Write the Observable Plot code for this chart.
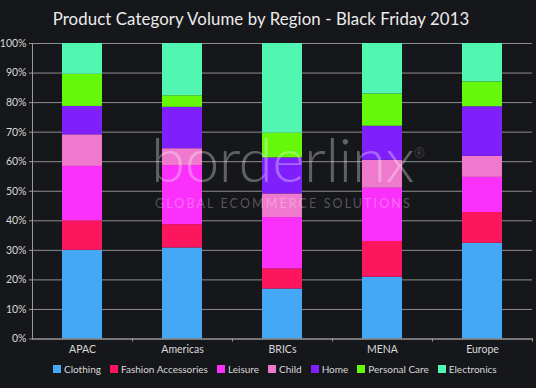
<!DOCTYPE html>
<html>
<head>
<meta charset="utf-8">
<script src="https://cdn.jsdelivr.net/npm/d3@7"></script>
<script src="https://cdn.jsdelivr.net/npm/@observablehq/plot@0.6"></script>
<style>
  html, body { margin: 0; padding: 0; background: #16171b; }
  #wrap { position: relative; width: 536px; height: 388px; overflow: hidden; background: #16171b; font-family: Lato, "Open Sans", sans-serif; }
  #title { position: absolute; left: 0; top: 8px; width: 522px; text-align: center; color: #ececec; font-size: 16.8px; letter-spacing: 0.1px; }
  #legend { position: absolute; left: 53px; top: 363px; display: flex; align-items: center; color: #d8d8d8; font-size: 10px; white-space: nowrap; }
  #legend .item { display: flex; align-items: center; margin-right: 9px; }
  #legend .sw { width: 8px; height: 8px; margin-right: 3px; }
  #wm1 { position: absolute; left: 151px; top: 121px; color: rgba(255,255,255,0.32); font-size: 62px; font-weight: 300; letter-spacing: -0.5px; pointer-events: none; }
  #wm1 sup { font-size: 13px; vertical-align: 24px; margin-left: 0px; }
  #wm2 { position: absolute; left: 155px; top: 196px; color: rgba(255,255,255,0.28); font-size: 12.5px; letter-spacing: 2.1px; pointer-events: none; }
  #chart { position: absolute; left: 0; top: 0; }
</style>
</head>
<body>
<div id="wrap">
  <div id="chart"></div>
  <div id="title"></div>
  <div id="wm1">borderlinx<sup>®</sup></div>
  <div id="wm2">GLOBAL ECOMMERCE SOLUTIONS</div>
  <div id="legend"></div>
</div>
<script>
const title = "Product Category Volume by Region - Black Friday 2013";
const regions = ["APAC", "Americas", "BRICs", "MENA", "Europe"];
const categories = ["Clothing", "Fashion Accessories", "Leisure", "Child", "Home", "Personal Care", "Electronics"];
const colors = ["#44a8f6", "#fb165e", "#fc30fb", "#ef7acd", "#7f20fc", "#66f80a", "#53f5b2"];

// percentage share per region (APAC, Americas, BRICs, MENA, Europe)
const clothing     = [30.0, 30.8, 16.9, 20.9, 32.4];
const fashion      = [10.0,  7.9,  6.8, 12.1, 10.4];
const leisure      = [18.4, 20.0, 17.4, 18.0, 11.9];
const child        = [10.7,  5.7,  8.0,  9.5,  7.1];
const home         = [ 9.6, 14.0, 12.2, 11.5, 16.8];
const personalCare = [10.9,  3.9,  8.4, 10.9,  8.4];
const electronics  = [10.4, 17.7, 30.3, 17.1, 13.0];

const yTicks = [0, 10, 20, 30, 40, 50, 60, 70, 80, 90, 100];

const series = [clothing, fashion, leisure, child, home, personalCare, electronics];
const data = [];
categories.forEach((c, i) => regions.forEach((r, j) => data.push({category: c, region: r, value: series[i][j]})));

document.getElementById("title").textContent = title;

const chart = Plot.plot({
  width: 536,
  height: 388,
  marginTop: 43,
  marginBottom: 49.5,
  marginLeft: 32,
  marginRight: 4,
  style: {background: "transparent", color: "#d8d8d8", fontFamily: "Lato, 'Open Sans', sans-serif"},
  x: {domain: regions, paddingInner: 0.6, paddingOuter: 0.3, label: null},
  y: {domain: [0, 100], label: null},
  color: {domain: categories, range: colors},
  marks: [
    Plot.gridY(yTicks, {stroke: "#8e8e8e", strokeOpacity: 1, strokeWidth: 1}),
    Plot.barY(data, {x: "region", y: "value", fill: "category"}),
    Plot.frame({anchor: "left", stroke: "#9a9a9a"}),
    Plot.frame({anchor: "bottom", stroke: "#9a9a9a"}),
    Plot.axisY(yTicks, {tickSize: 3, tickPadding: 3, stroke: "#9a9a9a", fill: "#d8d8d8", fontSize: 10.5, tickFormat: d => d + "%", label: null}),
    Plot.axisX({tickSize: 0, tickPadding: 7, fill: "#d8d8d8", fontSize: 10.5, label: null}),
    Plot.axisX({tickSize: 3, dx: 50, text: null, stroke: "#9a9a9a", label: null})
  ]
});
document.getElementById("chart").appendChild(chart);

const legend = document.getElementById("legend");
categories.forEach((c, i) => {
  const item = document.createElement("div");
  item.className = "item";
  const sw = document.createElement("div");
  sw.className = "sw";
  sw.style.background = colors[i];
  const t = document.createElement("span");
  t.textContent = c;
  item.appendChild(sw);
  item.appendChild(t);
  legend.appendChild(item);
});
</script>
</body>
</html>
